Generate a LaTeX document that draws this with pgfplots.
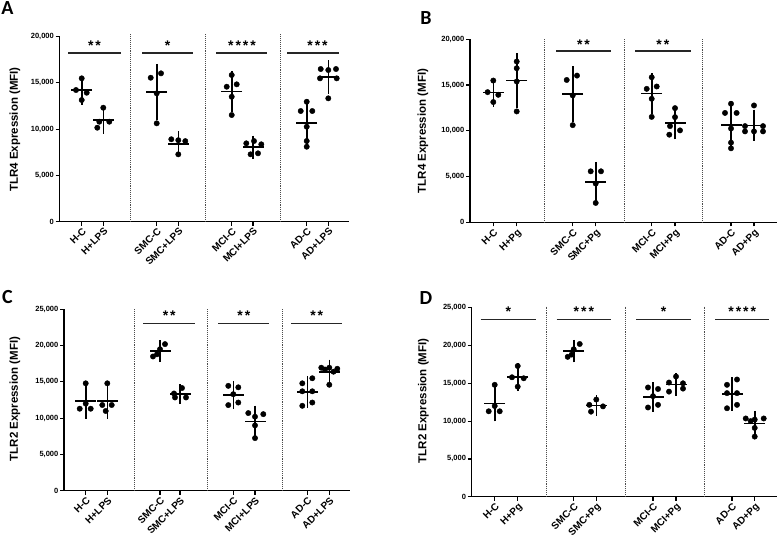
\documentclass[border=0pt]{standalone}
\usepackage{pgfplots}
\usepackage{pgfplotstable}
\pgfplotsset{compat=1.18}
\usepackage{fontspec}
\setmainfont{Liberation Sans}
\newfontfamily\letterfont{Carlito}

% ---------- Panel A data ----------
\pgfplotstableread[row sep=\\]{
x y\\
81.7 15494\\ 76.0 14228\\ 86.7 13936\\ 81.7 13146\\
103.3 12313\\ 99.3 10800\\ 109.3 10800\\ 97.3 10150\\
150.7 15559\\ 161.0 16035\\ 156.7 13871\\ 156.7 10625\\
171.3 8900\\ 178.3 8800\\ 185.3 8700\\ 178.3 7270\\
231.7 15851\\ 226.7 14586\\ 236.7 14845\\ 231.7 13503\\ 231.7 11523\\
246.3 8461\\ 254.0 8710\\ 261.3 8353\\ 250.6 7271\\ 258.0 7379\\
306.7 12962\\ 300.7 11956\\ 312.3 11956\\ 306.7 10257\\ 306.7 8710\\ 306.7 8093\\
320.7 16501\\ 328.3 16393\\ 336.0 16501\\ 320.0 15494\\ 336.7 15494\\ 328.3 13330\\
}\ptsA
\pgfplotstableread[row sep=\\]{
x m s\\
81.7 14201 980\\
103.3 11016 918\\
156.7 14022 2448\\
178.3 8417 769\\
231.7 14062 1647\\
253.0 8035 662\\
306.7 10656 1960\\
328.3 15619 1219\\
}\sumA

% ---------- Panel B data ----------
\pgfplotstableread[row sep=\\]{
x y\\
493.3 15494\\ 487.6 14228\\ 498.3 13936\\ 493.3 13146\\
516.7 17571\\ 516.7 16841\\ 516.7 15391\\ 516.7 12121\\
566.7 15559\\ 577.0 16035\\ 572.7 13871\\ 572.7 10625\\
590.7 5581\\ 601.0 5581\\ 595.7 4240\\ 595.7 2126\\
651.7 15851\\ 646.7 14586\\ 656.7 14845\\ 651.7 13503\\ 651.7 11523\\
675.0 12481\\ 675.0 11500\\ 670.0 10519\\ 680.0 10050\\ 669.3 9581\\
731.0 12962\\ 725.0 11956\\ 736.6 11956\\ 731.0 10257\\ 731.0 8710\\ 731.0 8093\\
754.0 12775\\ 745.0 10519\\ 763.0 10519\\ 745.0 9941\\ 754.0 9941\\ 763.0 9941\\
}\ptsB
\pgfplotstableread[row sep=\\]{
x m s\\
493.3 14201 980\\
516.7 15481 2416\\
572.7 14022 2448\\
595.7 4382 1632\\
651.7 14062 1647\\
675.0 10826 1166\\
731.0 10656 1960\\
754.0 10606 1100\\
}\sumB

% ---------- Panel C data ----------
\pgfplotstableread[row sep=\\]{
x y\\
85.7 14800\\ 85.7 12000\\ 79.7 11300\\ 90.7 11300\\
107.3 14800\\ 102.3 11810\\ 111.7 11810\\ 105.7 10983\\
165.0 20200\\ 160.0 19500\\ 153.0 18500\\ 157.0 18800\\
182.0 14150\\ 174.0 13400\\ 175.0 12850\\ 186.0 12850\\
228.3 14450\\ 238.3 14250\\ 233.3 13300\\ 238.3 12150\\ 228.3 11800\\
248.3 10700\\ 255.0 10200\\ 263.3 10550\\ 255.0 9000\\ 255.0 7250\\
312.3 15500\\ 302.3 14800\\ 302.3 13700\\ 312.3 13700\\ 312.3 12150\\ 302.3 11700\\
321.3 16950\\ 329.3 16950\\ 337.3 16800\\ 325.0 16700\\ 333.5 16400\\ 329.3 14600\\
}\ptsC
\pgfplotstableread[row sep=\\]{
x m s\\
85.7 12350 1666\\
107.3 12351 1679\\
160.0 19250 760\\
180.0 13312 615\\
233.3 13190 1198\\
255.0 9540 1444\\
307.3 13592 1468\\
329.3 16400 905\\
}\sumC

% ---------- Panel D data ----------
\pgfplotstableread[row sep=\\]{
x y\\
494.7 14800\\ 494.7 12000\\ 488.7 11300\\ 499.7 11300\\
517.7 17291\\ 512.0 15797\\ 523.7 15664\\ 517.7 14553\\
579.7 20200\\ 573.7 19500\\ 567.7 18500\\ 571.7 18800\\
596.3 12850\\ 589.3 12150\\ 603.0 11950\\ 591.0 11250\\
648.0 14450\\ 658.0 14250\\ 653.0 13300\\ 658.0 12150\\ 648.0 11800\\
676.0 15900\\ 669.0 15100\\ 683.0 15000\\ 683.0 14300\\ 669.0 13900\\
737.0 15500\\ 727.0 14800\\ 727.0 13700\\ 737.0 13700\\ 737.0 12150\\ 727.0 11700\\
745.7 10350\\ 763.7 10350\\ 754.7 10200\\ 750.7 10000\\ 754.7 9100\\ 754.7 7950\\
}\ptsD
\pgfplotstableread[row sep=\\]{
x m s\\
494.7 12350 1666\\
517.7 15826 1124\\
573.7 19250 760\\
596.3 12050 658\\
653.0 13190 1198\\
676.0 14840 773\\
732.0 13592 1468\\
754.7 9658 959\\
}\sumD

\pgfplotsset{
  panel/.style={
    scale only axis, anchor=south west, clip=false,
    axis x line*=bottom, axis y line*=left,
    axis line style={line width=1.5pt, -, black},
    tick align=outside, major tick length=4pt,
    tick style={line width=1.2pt, black},
    ymin=0, scaled y ticks=false,
    /pgf/number format/1000 sep={,},
    /pgf/number format/assume math mode=true,
    yticklabel style={font=\fontsize{7.5}{8}\selectfont\bfseries, inner sep=1.5pt},
    xticklabel style={font=\fontsize{10}{11}\selectfont\bfseries, rotate=45, anchor=north east, inner sep=1pt},
  },
  pts/.style={only marks, mark=*, mark size=2.7pt, black},
  summ/.style={only marks, mark=-, mark size=10.5pt, black,
    mark options={line width=1.6pt},
    error bars/.cd, y dir=both, y explicit,
    error bar style={line width=1.6pt, black},
    error mark options={mark size=5.5pt, line width=1.6pt, black}},
  divider/.style={densely dotted, line width=0.9pt, black!70},
  sig/.style={line width=1.2pt, black!85},
}
\tikzset{star/.style={font=\fontsize{14}{14}\selectfont\bfseries, inner sep=0pt}}

\begin{document}
\begin{tikzpicture}
\path[use as bounding box] (0,0) rectangle (778pt,-540pt);

% ================= A =================
\begin{axis}[panel, at={(59.5pt,-221.5pt)}, width=289.5pt, height=184.8pt,
  xmin=59.5, xmax=349, ymax=20000, ytick={0,5000,10000,15000,20000},
  xtick={81.7,103.3,156.7,178.3,231.7,253,306.7,328.3},
  xticklabels={H-C,H+LPS,SMC-C,SMC+LPS,MCI-C,MCI+LPS,AD-C,AD+LPS}]
\addplot[divider] coordinates {(130,0) (130,20350)};
\addplot[divider] coordinates {(205,0) (205,20350)};
\addplot[divider] coordinates {(280,0) (280,20350)};
\addplot[pts] table[x=x,y=y] {\ptsA};
\addplot[summ] table[x=x,y=m,y error=s] {\sumA};
\addplot[sig] coordinates {(68,18232) (121,18232)};
\addplot[sig] coordinates {(142,18232) (193,18232)};
\addplot[sig] coordinates {(216,18232) (267,18232)};
\addplot[sig] coordinates {(287,18232) (339,18232)};
\node[star] at (axis cs:94.5,19000) {*\hspace{2pt}*};
\node[star] at (axis cs:167.5,19000) {*};
\node[star] at (axis cs:242,19000) {*\hspace{2pt}*\hspace{2pt}*\hspace{2pt}*};
\node[star] at (axis cs:317.5,19000) {*\hspace{2pt}*\hspace{2pt}*};
\end{axis}

% ================= B =================
\begin{axis}[panel, at={(470pt,-222.4pt)}, width=307pt, height=183.1pt,
  xmin=470, xmax=777, ymax=20000, ytick={0,5000,10000,15000,20000},
  xtick={493.3,516.7,572.7,595.7,651.7,675,731,754},
  xticklabels={H-C,H+Pg,SMC-C,SMC+Pg,MCI-C,MCI+Pg,AD-C,AD+Pg}]
\addplot[divider] coordinates {(544.3,0) (544.3,20100)};
\addplot[divider] coordinates {(624,0) (624,20100)};
\addplot[divider] coordinates {(702.7,0) (702.7,20100)};
\addplot[pts] table[x=x,y=y] {\ptsB};
\addplot[summ] table[x=x,y=m,y error=s] {\sumB};
\addplot[sig] coordinates {(556,18715) (611,18715)};
\addplot[sig] coordinates {(635,18715) (690.7,18715)};
\node[star] at (axis cs:583.5,19400) {*\hspace{2pt}*};
\node[star] at (axis cs:662.8,19400) {*\hspace{2pt}*};
\end{axis}

% ================= C =================
\begin{axis}[panel, at={(64pt,-490.7pt)}, width=286pt, height=181.4pt,
  xmin=64, xmax=350, ymax=25000, ytick={0,5000,10000,15000,20000,25000},
  xtick={85.7,107.3,160,180,233.3,255,307.3,329.3},
  xticklabels={H-C,H+LPS,SMC-C,SMC+LPS,MCI-C,MCI+LPS,AD-C,AD+LPS}]
\addplot[divider] coordinates {(134,0) (134,25130)};
\addplot[divider] coordinates {(207.7,0) (207.7,25130)};
\addplot[divider] coordinates {(282.3,0) (282.3,25130)};
\addplot[pts] table[x=x,y=y] {\ptsC};
\addplot[summ] table[x=x,y=m,y error=s] {\sumC};
\addplot[sig] coordinates {(143.3,23068) (195,23068)};
\addplot[sig] coordinates {(218.3,23068) (269.3,23068)};
\addplot[sig] coordinates {(291,23068) (342.3,23068)};
\node[star] at (axis cs:169.2,24100) {*\hspace{2pt}*};
\node[star] at (axis cs:243.8,24100) {*\hspace{2pt}*};
\node[star] at (axis cs:316.7,24100) {*\hspace{2pt}*};
\end{axis}

% ================= D =================
\begin{axis}[panel, at={(471.7pt,-496.7pt)}, width=305.3pt, height=189pt,
  xmin=471.7, xmax=777, ymax=25000, ytick={0,5000,10000,15000,20000,25000},
  xtick={494.7,517.7,573.7,596.3,653,676,732,754.7},
  xticklabels={H-C,H+Pg,SMC-C,SMC+Pg,MCI-C,MCI+Pg,AD-C,AD+Pg}]
\addplot[divider] coordinates {(546,0) (546,25140)};
\addplot[divider] coordinates {(625.3,0) (625.3,25140)};
\addplot[divider] coordinates {(704.3,0) (704.3,25140)};
\addplot[pts] table[x=x,y=y] {\ptsD};
\addplot[summ] table[x=x,y=m,y error=s] {\sumD};
\addplot[sig] coordinates {(480.7,23470) (536,23470)};
\addplot[sig] coordinates {(556.7,23470) (611,23470)};
\addplot[sig] coordinates {(636,23470) (691,23470)};
\addplot[sig] coordinates {(715,23470) (769.3,23470)};
\node[star] at (axis cs:508.3,24500) {*};
\node[star] at (axis cs:583.8,24500) {*\hspace{2pt}*\hspace{2pt}*};
\node[star] at (axis cs:663.5,24500) {*};
\node[star] at (axis cs:742.2,24500) {*\hspace{2pt}*\hspace{2pt}*\hspace{2pt}*};
\end{axis}

% ---------- axis titles and panel letters ----------
\node[rotate=90, font=\fontsize{11.5}{12}\selectfont\bfseries] at (15pt,-129.5pt) {TLR4 Expression (MFI)};
\node[rotate=90, font=\fontsize{11.5}{12}\selectfont\bfseries] at (423pt,-131pt) {TLR4 Expression (MFI)};
\node[rotate=90, font=\fontsize{11.5}{12}\selectfont\bfseries] at (15pt,-399pt) {TLR2 Expression (MFI)};
\node[rotate=90, font=\fontsize{11.5}{12}\selectfont\bfseries] at (423.3pt,-400.8pt) {TLR2 Expression (MFI)};
\node[font=\letterfont\fontsize{20}{20}\selectfont\bfseries, inner sep=0pt] at (7.5pt,-8.5pt) {A};
\node[font=\letterfont\fontsize{20}{20}\selectfont\bfseries, inner sep=0pt] at (426pt,-18pt) {B};
\node[font=\letterfont\fontsize{20}{20}\selectfont\bfseries, inner sep=0pt] at (7.5pt,-296.7pt) {C};
\node[font=\letterfont\fontsize{20}{20}\selectfont\bfseries, inner sep=0pt] at (426pt,-298.3pt) {D};
\end{tikzpicture}
\end{document}
